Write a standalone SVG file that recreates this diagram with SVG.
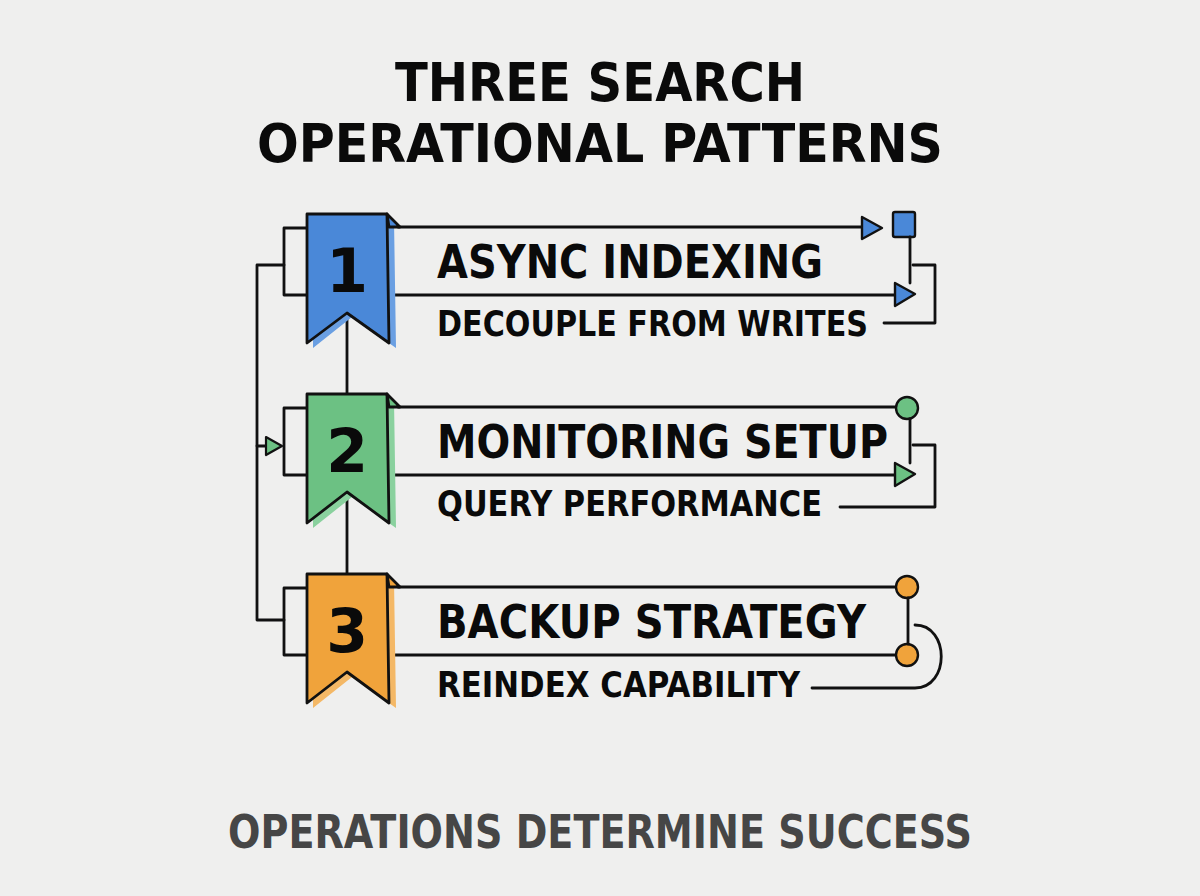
<svg xmlns="http://www.w3.org/2000/svg" width="1200" height="896" viewBox="0 0 1200 896">
<defs>
<style>
.ln{fill:none;stroke:#111;stroke-width:2.8;stroke-linecap:round;stroke-linejoin:round}
.rib{stroke:#111;stroke-width:2.8;stroke-linejoin:round}
.t{font-family:"DejaVu Sans","Liberation Sans",sans-serif;font-weight:bold;fill:#0a0a0a}
.num{font-family:"DejaVu Sans","Liberation Sans",sans-serif;font-weight:bold;font-size:60px;fill:#0a0a0a;text-anchor:middle}
.blue{fill:#4a88d8}.blueL{fill:#6a9fe2}
.green{fill:#6cc183}.greenL{fill:#8ad19e}
.orange{fill:#f0a33b}.orangeL{fill:#f4b866}
</style>
</defs>
<rect width="1200" height="896" fill="#efefee"/>
<g id="title">
<text class="t" x="600" y="101" font-size="53" text-anchor="middle" textLength="410" lengthAdjust="spacingAndGlyphs">THREE SEARCH</text>
<text class="t" x="600" y="162" font-size="53" text-anchor="middle" textLength="686" lengthAdjust="spacingAndGlyphs">OPERATIONAL PATTERNS</text>
</g>
<g id="connectors">
<path class="ln" d="M284,265 H257 V620 H284"/>
<path class="ln" d="M257,446 H266"/>
<polygon points="266,437 282,446 266,455" class="green" stroke="#111" stroke-width="2.2" stroke-linejoin="round"/>
<path class="ln" d="M347,313 V393"/>
<path class="ln" d="M347,492 V575"/>
</g>
<g id="row1">
<path class="ln" d="M307,228 H284 V295 H307"/>
<path class="ln" d="M398,227 H862"/>
<path class="ln" d="M388,295 H895"/>
<polygon points="862,217 882,228 862,239" class="blue" stroke="#111" stroke-width="2.4" stroke-linejoin="round"/>
<rect x="893" y="212" width="22" height="25" rx="2" class="blue" stroke="#111" stroke-width="2.4"/>
<path class="ln" d="M910,237 V283"/>
<polygon points="895,283 915,294 895,306" class="blue" stroke="#111" stroke-width="2.4" stroke-linejoin="round"/>
<path class="ln" d="M913,265 H935 V323 H884"/>
<polygon points="313,220 394,220 396,348 352,317 313,348" class="blueL"/>
<polygon points="307,214 387,214 389,343 347,313 307,343" class="blue rib"/>
<polygon points="387,214 400,227 389,227" class="blue rib"/>
<text class="num" x="347" y="292">1</text>
<text class="t" x="437" y="278" font-size="46" textLength="386" lengthAdjust="spacingAndGlyphs">ASYNC INDEXING</text>
<text class="t" x="437" y="336" font-size="36" textLength="431" lengthAdjust="spacingAndGlyphs">DECOUPLE FROM WRITES</text>
</g>
<g id="row2">
<path class="ln" d="M307,408 H284 V475 H307"/>
<path class="ln" d="M398,407 H896"/>
<path class="ln" d="M388,475 H895"/>
<circle cx="907" cy="408" r="11" class="green" stroke="#111" stroke-width="2.4"/>
<path class="ln" d="M910,419 V463"/>
<polygon points="895,463 915,474 895,486" class="green" stroke="#111" stroke-width="2.4" stroke-linejoin="round"/>
<path class="ln" d="M913,445 H935 V507 H840"/>
<polygon points="313,400 394,400 396,528 352,497 313,528" class="greenL"/>
<polygon points="307,394 387,394 389,523 347,492 307,523" class="green rib"/>
<polygon points="387,394 400,407 389,407" class="green rib"/>
<text class="num" x="347" y="472">2</text>
<text class="t" x="437" y="458" font-size="46" textLength="451" lengthAdjust="spacingAndGlyphs">MONITORING SETUP</text>
<text class="t" x="437" y="516" font-size="36" textLength="385" lengthAdjust="spacingAndGlyphs">QUERY PERFORMANCE</text>
</g>
<g id="row3">
<path class="ln" d="M307,588 H284 V655 H307"/>
<path class="ln" d="M398,587 H896"/>
<path class="ln" d="M388,655 H896"/>
<circle cx="907" cy="587" r="11" class="orange" stroke="#111" stroke-width="2.4"/>
<circle cx="907" cy="655" r="11" class="orange" stroke="#111" stroke-width="2.4"/>
<path class="ln" d="M908,598 V644"/>
<path class="ln" d="M915,625 C950,625 950,688 915,688 H812"/>
<polygon points="313,580 394,580 396,708 352,677 313,708" class="orangeL"/>
<polygon points="307,574 387,574 389,703 347,672 307,703" class="orange rib"/>
<polygon points="387,574 400,587 389,587" class="orange rib"/>
<text class="num" x="347" y="652">3</text>
<text class="t" x="437" y="638" font-size="46" textLength="429" lengthAdjust="spacingAndGlyphs">BACKUP STRATEGY</text>
<text class="t" x="437" y="697" font-size="36" textLength="363" lengthAdjust="spacingAndGlyphs">REINDEX CAPABILITY</text>
</g>
<g id="footer">
<text class="t" x="600" y="848" font-size="46" text-anchor="middle" textLength="744" lengthAdjust="spacingAndGlyphs" style="fill:#464646">OPERATIONS DETERMINE SUCCESS</text>
</g>
</svg>
